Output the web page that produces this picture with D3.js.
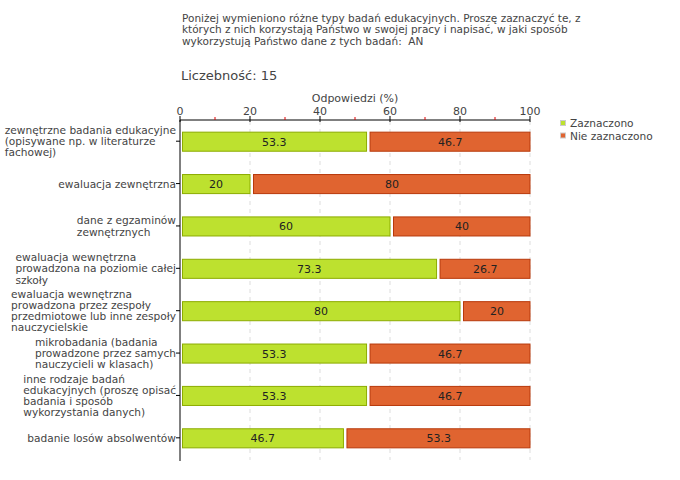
<!DOCTYPE html>
<html><head><meta charset="utf-8">
<script src="https://cdn.jsdelivr.net/npm/d3@7"></script>
<style>body{margin:0;background:#fff}svg{display:block}text{font-family:"DejaVu Sans",Verdana,sans-serif;white-space:pre}</style>
</head><body><svg id="c" width="680" height="480"></svg>
<script>
const titleLines = ["Poniżej wymieniono różne typy badań edukacyjnych. Proszę zaznaczyć te, z","których z nich korzystają Państwo w swojej pracy i napisać, w jaki sposób","wykorzystują Państwo dane z tych badań:  AN"];
const countLabel = "Liczebność: 15";
const axisTitle = "Odpowiedzi (%)";
const categories = [
  ["zewnętrzne badania edukacyjne","(opisywane np. w literaturze","fachowej)"],
  ["ewaluacja zewnętrzna"],
  ["dane z egzaminów","zewnętrznych"],
  ["ewaluacja wewnętrzna","prowadzona na poziomie całej","szkoły"],
  ["ewaluacja wewnętrzna","prowadzona przez zespoły","przedmiotowe lub inne zespoły","nauczycielskie"],
  ["mikrobadania (badania","prowadzone przez samych","nauczycieli w klasach)"],
  ["inne rodzaje badań","edukacyjnych (proszę opisać","badania i sposób","wykorzystania danych)"],
  ["badanie losów absolwentów"]
];
const seriesNames = ["Zaznaczono","Nie zaznaczono"];
const zaznaczono = [53.3,20,60,73.3,80,53.3,53.3,46.7];
const nieZaznaczono = [46.7,80,40,26.7,20,46.7,46.7,53.3];
const ticks = [0,20,40,60,80,100];
const minorTicks = [10,30,50,70,90];

const svg = d3.select("#c");
const x = d3.scaleLinear().domain([0,100]).range([180,530]);
const y = d3.scaleBand().domain(d3.range(categories.length)).range([120,459]).paddingInner(0.55).paddingOuter(0.275);

// title
svg.append("text").attr("x",182).attr("y",21.5).attr("fill","#444").attr("font-size","10.5px")
  .selectAll("tspan").data(titleLines).join("tspan").attr("x",182).attr("dy",(d,i)=>i?11.5:0).text(d=>d);
svg.append("text").attr("x",181).attr("y",80).attr("fill","#444").attr("font-size","13px").text(countLabel);
svg.append("text").attr("x",x(50)).attr("y",102).attr("text-anchor","middle").attr("fill","#444").attr("font-size","11px").text(axisTitle);

// grid
svg.append("g").selectAll("line").data(ticks.slice(1)).join("line")
  .attr("x1",d=>x(d)).attr("x2",d=>x(d)).attr("y1",121).attr("y2",460)
  .attr("stroke","#ddd").attr("stroke-dasharray","4,4");

// top axis
const topAxis = svg.append("g");
topAxis.append("line").attr("x1",x(0)).attr("x2",x(100)).attr("y1",120).attr("y2",120).attr("stroke","#000");
topAxis.append("g").selectAll("line").data(ticks).join("line").attr("x1",d=>x(d)).attr("x2",d=>x(d)).attr("y1",116).attr("y2",122).attr("stroke","#000");
topAxis.append("g").selectAll("line").data(minorTicks).join("line").attr("x1",d=>x(d)).attr("x2",d=>x(d)).attr("y1",117).attr("y2",120).attr("stroke","#d00");
topAxis.append("g").selectAll("text").data(ticks).join("text").attr("x",d=>x(d)).attr("y",115).attr("text-anchor","middle")
  .attr("fill","#444").attr("font-size","11px").text(d=>d);

// left axis
svg.append("line").attr("x1",180).attr("x2",180).attr("y1",120).attr("y2",461).attr("stroke","#000");
svg.append("g").selectAll("line").data(d3.range(categories.length)).join("line")
  .attr("x1",176).attr("x2",180).attr("y1",i=>y(i)+y.bandwidth()/2).attr("y2",i=>y(i)+y.bandwidth()/2).attr("stroke","#000");

// category labels
categories.forEach((lines,i)=>{
  const cy = y(i)+y.bandwidth()/2;
  const lh = 11.2;
  const t = svg.append("text").attr("fill","#444").attr("font-size","10.6px");
  const y0 = cy - (lines.length-1)*lh/2 + 4;
  t.selectAll("tspan").data(lines).join("tspan").attr("y",(d,k)=>y0+k*lh).text(d=>d);
  let w = 0; t.selectAll("tspan").each(function(){w=Math.max(w,this.getComputedTextLength());});
  t.selectAll("tspan").attr("x",176-w);
});

// bars
const g = svg.append("g");
categories.forEach((c,i)=>{
  const by = y(i), bh = y.bandwidth();
  const a = zaznaczono[i], b = nieZaznaczono[i];
  g.append("rect").attr("x",x(0)+2.5).attr("y",by+0.5).attr("width",x(a)-x(0)-2.5).attr("height",bh)
    .attr("fill","#bde12f").attr("stroke","#8cac00");
  g.append("rect").attr("x",x(a)+3.5).attr("y",by+0.5).attr("width",x(a+b)-x(a)-3.5).attr("height",bh)
    .attr("fill","#e06430").attr("stroke","#b8390b");
  g.append("text").attr("x",(x(0)+x(a))/2+1).attr("y",by+bh/2+4.5).attr("text-anchor","middle").attr("font-size","11px").attr("fill","#222").text(a);
  g.append("text").attr("x",(x(a)+x(a+b))/2+2).attr("y",by+bh/2+4.5).attr("text-anchor","middle").attr("font-size","11px").attr("fill","#222").text(b);
});

// legend
const colors = ["#bde12f","#e06430"];
const lg = svg.append("g");
seriesNames.forEach((n,i)=>{
  lg.append("rect").attr("x",560.5).attr("y",120.5+i*12.5).attr("width",5).attr("height",5).attr("fill",colors[i]).attr("stroke","#ccc");
  lg.append("text").attr("x",570).attr("y",127+i*12.5).attr("font-size","10.6px").attr("fill","#444").text(n);
});
</script></body></html>
